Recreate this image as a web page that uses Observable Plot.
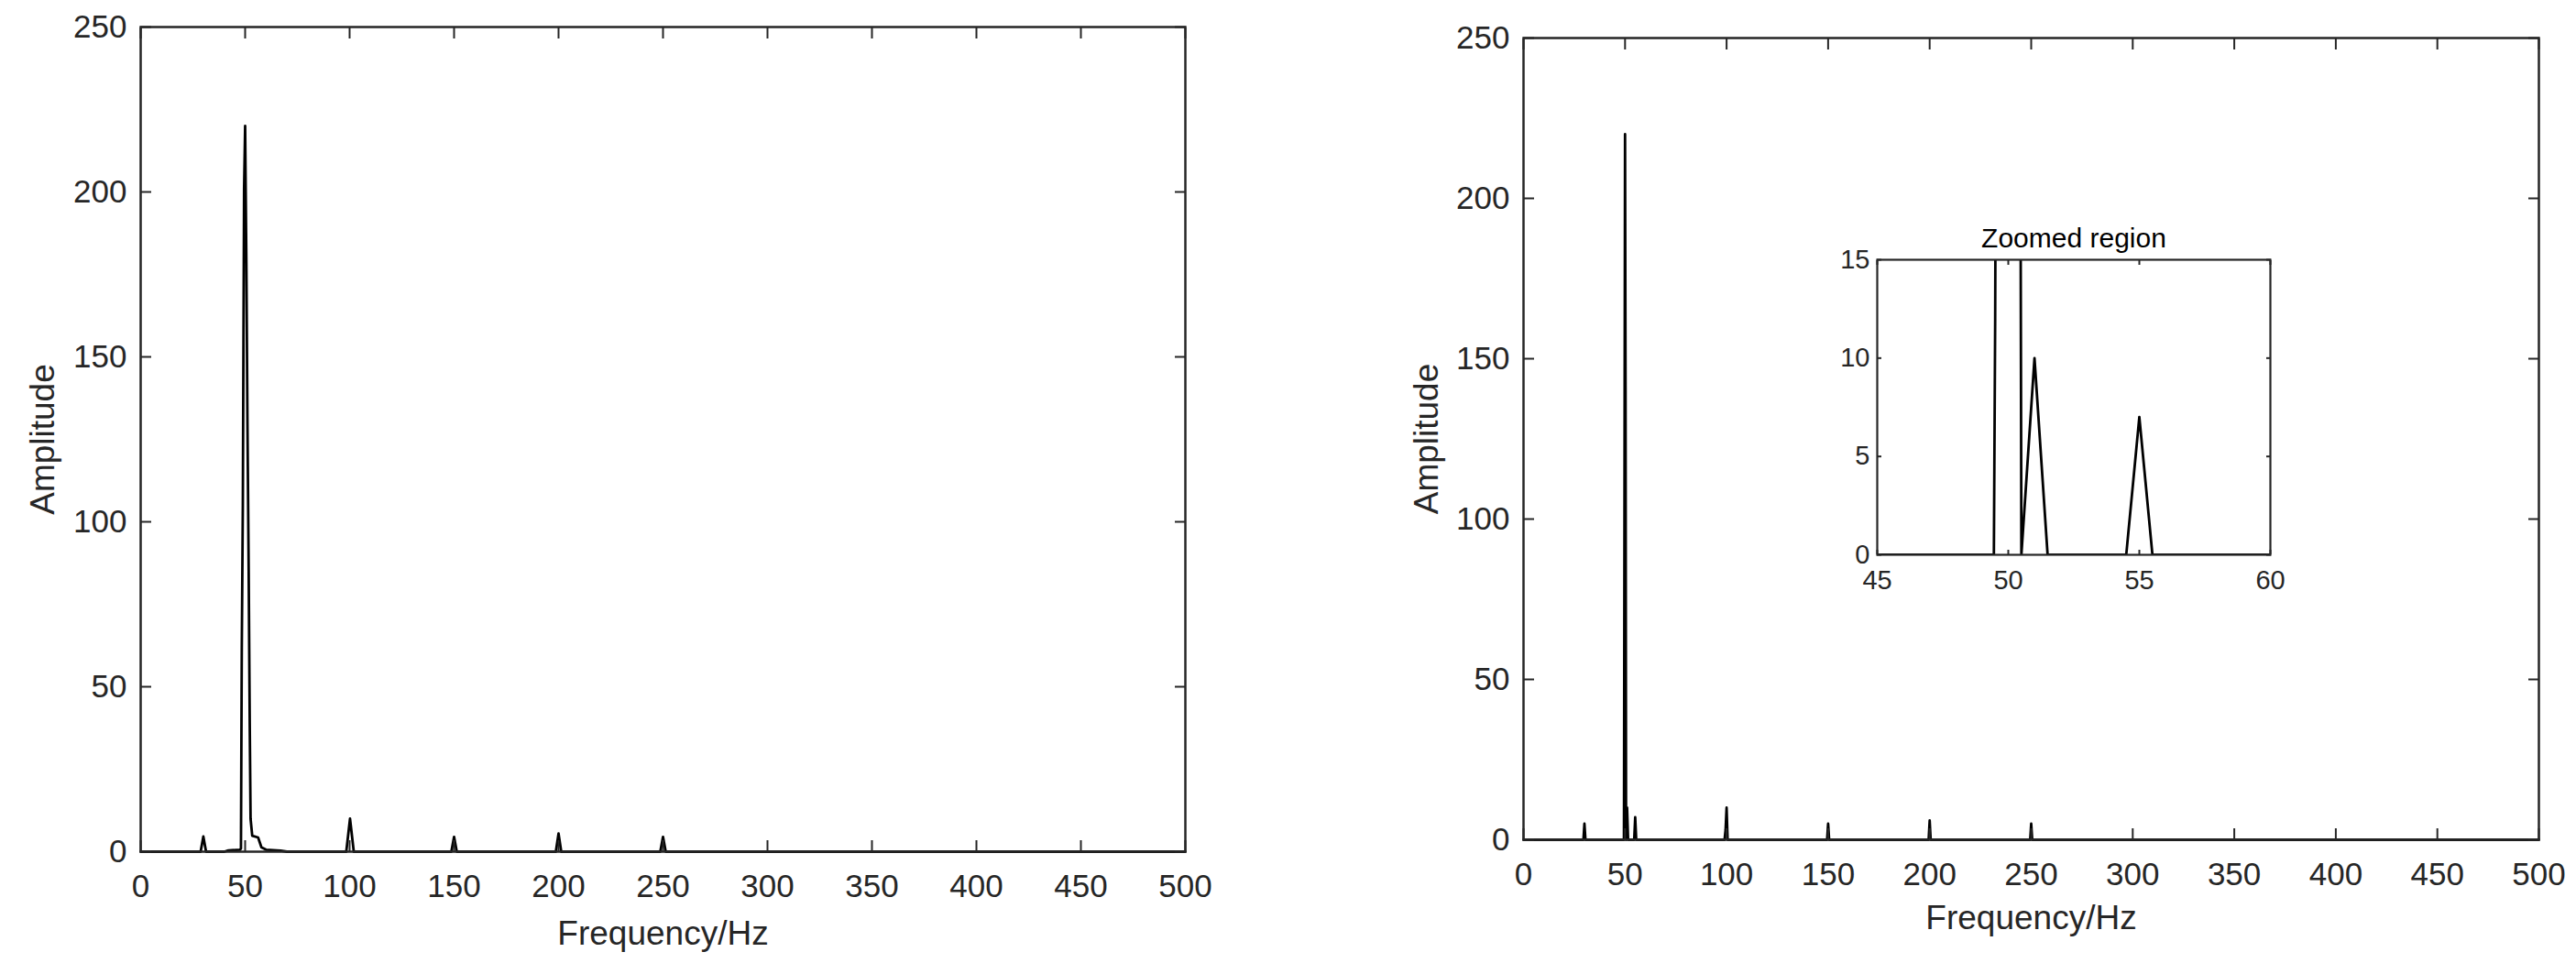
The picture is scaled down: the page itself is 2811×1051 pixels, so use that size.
<!DOCTYPE html>
<html>
<head>
<meta charset="utf-8">
<script src="https://cdn.jsdelivr.net/npm/d3@7"></script>
<script src="https://cdn.jsdelivr.net/npm/@observablehq/plot@0.6"></script>
<style>
html, body { margin: 0; padding: 0; background: #fff; }
#fig { position: relative; width: 2811px; height: 1051px; overflow: hidden; background: #fff; }
#fig > svg { position: absolute; overflow: visible; }
</style>
</head>
<body>
<div id="fig"></div>
<script>
// ---- Data ----
// Left panel: lower-resolution amplitude spectrum
const leftFreq = [0, 28.7, 30, 31.3, 40, 42, 47.6, 48.0, 48.4, 48.9, 49.2, 49.5, 50, 50.6, 51.1, 51.7, 52.2, 52.6, 53.4, 56.2, 57.8, 60, 67, 70,
                  98.4, 100.2, 102, 148.7, 150, 151.3, 198.7, 200, 201.3, 248.7, 250, 251.3, 500];
const leftAmp  = [0, 0, 4.6, 0, 0, 0.4, 0.6, 1.0, 62, 105, 154, 201, 220, 178, 131, 85, 39, 10, 4.8, 4.3, 1.3, 0.6, 0.3, 0,
                  0, 10, 0, 0, 4.5, 0, 0, 5.5, 0, 0, 4.5, 0, 0];
// Right panel: high-resolution amplitude spectrum
const rightFreq = [0, 29.5, 30, 30.5, 49.45, 49.5, 50, 50.25, 50.5, 51, 51.5, 54.5, 55, 55.5,
                   99, 99.5, 100, 100.5, 149.5, 150, 150.5, 199.5, 200, 200.5, 249.5, 250, 250.5, 500];
const rightAmp  = [0, 0, 5, 0, 0, 12, 220, 141, 0, 10, 0, 0, 7, 0,
                   0, 3, 10, 0, 0, 5, 0, 0, 6, 0, 0, 5, 0, 0];
// Tick values
const xTicks = [0, 50, 100, 150, 200, 250, 300, 350, 400, 450, 500];
const yTicks = [0, 50, 100, 150, 200, 250];
const insetXTicks = [45, 50, 55, 60];
const insetYTicks = [0, 5, 10, 15];
// Texts
const xLabel = "Frequency/Hz";
const yLabel = "Amplitude";
const insetTitle = "Zoomed region";

const FONT = '"Liberation Sans", Arial, Helvetica, sans-serif';
const AX = "#262626";

function toRows(f, a) { return f.map((v, i) => ({f: v, a: a[i]})); }

function mainPlot({freq, amp, width, height, mt, mr, mb, ml, ylabDx, xlabDy}) {
  const data = toRows(freq, amp);
  return Plot.plot({
    width, height,
    marginTop: mt, marginRight: mr, marginBottom: mb, marginLeft: ml,
    style: {fontFamily: FONT, background: "transparent", overflow: "visible", color: AX},
    x: {domain: [0, 500]},
    y: {domain: [0, 250]},
    marks: [
      Plot.line(data, {x: "f", y: "a", stroke: "#000", strokeWidth: 2.8}),
      Plot.frame({stroke: AX, strokeWidth: 2.5}),
      Plot.axisX(xTicks, {anchor: "bottom", tickSize: -12, text: null, label: null, stroke: AX, strokeWidth: 2}),
      Plot.axisX(xTicks, {anchor: "top", tickSize: -12, text: null, label: null, stroke: AX, strokeWidth: 2}),
      Plot.axisY(yTicks, {anchor: "left", tickSize: -12, text: null, label: null, stroke: AX, strokeWidth: 2}),
      Plot.axisY(yTicks, {anchor: "right", tickSize: -12, text: null, label: null, stroke: AX, strokeWidth: 2}),
      Plot.axisX(xTicks, {anchor: "bottom", tickSize: 0, tickPadding: 25, label: null, fontSize: 35, fill: AX}),
      Plot.axisY(yTicks, {anchor: "left", tickSize: 0, tickPadding: 15, label: null, fontSize: 35, fill: AX}),
      Plot.text([yLabel], {frameAnchor: "left", dx: ylabDx, rotate: -90, textAnchor: "middle", lineAnchor: "middle", fontSize: 37, fill: AX}),
      Plot.text([xLabel], {frameAnchor: "bottom", dy: xlabDy, textAnchor: "middle", lineAnchor: "bottom", fontSize: 37, fill: AX})
    ]
  });
}

function insetPlot() {
  const data = toRows(rightFreq, rightAmp);
  return Plot.plot({
    width: 560, height: 450,
    marginTop: 63, marginRight: 43, marginBottom: 65, marginLeft: 88,
    style: {fontFamily: FONT, background: "transparent", overflow: "visible", color: AX},
    x: {domain: [45, 60]},
    y: {domain: [0, 15]},
    marks: [
      Plot.frame({fill: "#fff", stroke: null}),
      Plot.line(data, {x: "f", y: "a", stroke: "#000", strokeWidth: 2.8, clip: true}),
      Plot.frame({stroke: AX, strokeWidth: 2.2}),
      Plot.axisX(insetXTicks, {anchor: "bottom", tickSize: -5, text: null, label: null, stroke: AX, strokeWidth: 2}),
      Plot.axisX(insetXTicks, {anchor: "top", tickSize: -5, text: null, label: null, stroke: AX, strokeWidth: 2}),
      Plot.axisY(insetYTicks, {anchor: "left", tickSize: -5, text: null, label: null, stroke: AX, strokeWidth: 2}),
      Plot.axisY(insetYTicks, {anchor: "right", tickSize: -5, text: null, label: null, stroke: AX, strokeWidth: 2}),
      Plot.axisX(insetXTicks, {anchor: "bottom", tickSize: 0, tickPadding: 17, label: null, fontSize: 29, fill: AX}),
      Plot.axisY(insetYTicks, {anchor: "left", tickSize: 0, tickPadding: 8, label: null, fontSize: 29, fill: AX}),
      Plot.text([insetTitle], {frameAnchor: "top", dy: -14, textAnchor: "middle", lineAnchor: "bottom", fontSize: 30, fill: "#000"})
    ]
  });
}

const fig = document.getElementById("fig");

const left = mainPlot({freq: leftFreq, amp: leftAmp, width: 1400, height: 1051, mt: 29, mr: 107, mb: 122, ml: 153, ylabDx: -106, xlabDy: 101});
left.style.left = "0px"; left.style.top = "0px";
fig.appendChild(left);

const right = mainPlot({freq: rightFreq, amp: rightAmp, width: 1401, height: 1051, mt: 41, mr: 41, mb: 135, ml: 252, ylabDx: -105, xlabDy: 97});
right.style.left = "1410px"; right.style.top = "0px";
fig.appendChild(right);

const inset = insetPlot();
inset.style.left = "1960px"; inset.style.top = "220px";
fig.appendChild(inset);
</script>
</body>
</html>
